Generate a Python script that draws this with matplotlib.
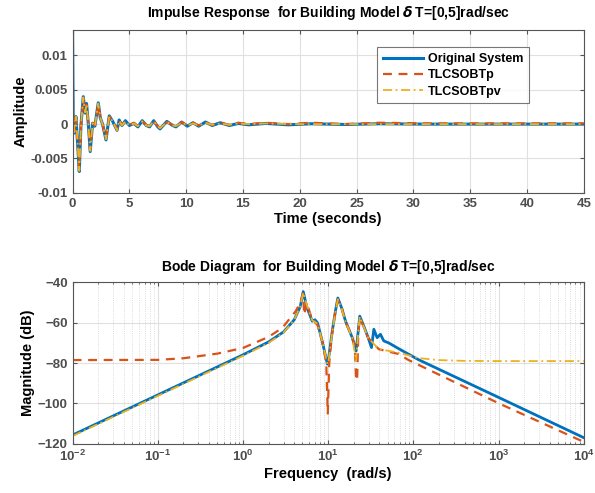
import matplotlib
matplotlib.use("Agg")
import matplotlib.pyplot as plt
import numpy as np
from matplotlib.ticker import FixedLocator, NullFormatter

# MATLAB default line colours
BLUE, ORANGE, YELLOW = "#0072BD", "#D95319", "#EDB120"
LABELS = ("Original System", "TLCSOBTp", "TLCSOBTpv")

# impulse response, amplitude in units of 1e-3
t_imp = [0, 0.05, 0.15, 0.29, 0.44, 0.59, 0.73, 0.94, 1.11, 1.23, 1.4, 1.55,
         1.76, 1.96, 2.26, 2.44, 2.64, 2.94, 3.23, 3.53, 3.91, 4.1, 4.35, 4.65,
         5.0, 5.4, 5.75, 6.13, 6.49, 6.78, 7.14, 7.5, 7.7, 8.3, 8.8, 9.1, 9.6,
         10.1, 10.6, 11.1, 11.7, 12.3, 13.0, 13.8, 14.6, 15.5, 17, 19, 21, 24,
         27, 31, 36, 40, 45]
y_orig = [13.7, 1.1, -1.3, 1.1, -2.8, -6.9, -0.3, 4.0, 1.6, 3.0, -0.3, -4.0,
          0.1, -0.3, 3.1, 0.9, 0.0, -2.3, 1.2, 0.4, -0.9, 0.6, -0.2, 0.5,
          -0.2, 0.1, -0.4, 0.5, -0.2, -0.4, 0.5, -0.4, -0.7, 0.4, -0.2, -0.4, 0.3,
          -0.3, 0.2, -0.3, 0.3, -0.2, 0.2, -0.2, 0.1, -0.1, 0.1, -0.1, 0.05, -0.05,
          0.05, 0.0, 0.0, 0.0, 0.0]
y_p = [10.6, 1.3, -1.1, 1.0, -2.6, -6.6, -0.5, 3.8, 1.8, 2.8, -0.2, -3.8,
       0.2, -0.2, 2.9, 1.0, -0.1, -2.1, 1.1, 0.5, -0.8, 0.5, -0.1, 0.4,
       -0.1, 0.2, -0.3, 0.4, -0.1, -0.3, 0.4, -0.3, -0.5, 0.3, -0.1, -0.3, 0.3,
       -0.2, 0.2, -0.2, 0.2, -0.1, 0.2, -0.1, 0.2, 0.0, 0.2, 0.0, 0.2, 0.0,
       0.2, 0.1, 0.1, 0.1, 0.1]
y_pv = [12.9, 1.2, -1.2, 1.1, -2.7, -6.8, -0.4, 3.9, 1.7, 2.9, -0.3, -3.9,
        0.1, -0.3, 3.0, 0.9, 0.0, -2.2, 1.1, 0.4, -0.9, 0.5, -0.2, 0.4,
        -0.2, 0.1, -0.3, 0.4, -0.2, -0.3, 0.4, -0.3, -0.6, 0.3, -0.2, -0.3, 0.2,
        -0.2, 0.1, -0.2, 0.2, -0.1, 0.1, -0.1, 0.1, 0.0, 0.1, 0.0, 0.0, 0.0,
        0.0, 0.0, 0.0, 0.0, 0.0]

# bode magnitude (dB)
w_orig = [0.01, 0.1, 1, 2, 3, 4, 4.7, 5.1, 5.6, 6.5, 7.0, 7.5, 8.5, 9.8, 10.1,
          11.2, 12.2, 13.0, 14.5, 16, 19.2, 21.3, 22.3, 23.5, 26.2, 29.5, 32.3,
          34.4, 37.6, 41.1, 45, 51.5, 67, 115, 1000, 10000]
m_orig = [-115.7, -95.8, -75.9, -69.5, -64.5, -58.5, -52, -44.5, -52, -59.2,
          -58.5, -60, -69, -80.5, -78, -64, -54, -47.7, -53, -59.2, -67.4, -74,
          -66, -56.7, -61.6, -67.4, -72.3, -63.2, -67.4, -65.7, -69, -70, -72.8,
          -78.3, -97, -117]
w_p = [0.01, 0.1, 0.2, 0.5, 1, 2, 2.9, 4.17, 4.7, 5.07, 5.25, 5.6, 6.5, 7.5,
       8.5, 9.5, 9.9, 10.3, 11.2, 12.2, 13.0, 14.5, 16, 19.2, 20.6, 21.3,
       21.9, 22.6, 23.5, 26.2, 29.5, 39.3, 67, 88, 1000, 10000]
m_p = [-78.5, -78.4, -77.6, -75.3, -72.5, -67, -62.5, -54.2, -50, -45.5, -56,
       -50, -58.5, -61, -69, -80, -105, -80, -64, -54, -48.5, -53, -59.5,
       -67.4, -72, -88.7, -88, -65, -57.5, -62, -67.5, -73.1, -75.5, -78.5,
       -99.9, -119.1]
w_pv = [0.01, 0.1, 1, 2, 3, 4, 4.7, 5.1, 5.6, 6.5, 7.0, 7.5, 8.5, 9.8, 10.1,
        11.2, 12.2, 13.0, 14.5, 16, 19.2, 21.3, 22.3, 23.5, 26.2, 29.5, 39.3,
        67, 115, 198, 400, 1000, 10000]
m_pv = [-116.2, -96.3, -76.4, -70, -64.8, -58.5, -52, -45, -51, -58.8, -59.5,
        -60.5, -69, -80.5, -79, -64.5, -54.5, -48.3, -53.5, -59.5, -67.4, -79,
        -67, -57, -62, -67.5, -73.1, -74.8, -77.5, -78.5, -78.9, -79, -79]

bode_ticks = [1e-2, 1e-1, 1e0, 1e1, 1e2, 1e3, 1e4]
bode_minor = [m * d for d in bode_ticks[:-1] for m in range(2, 10)]

plt.rcParams["font.family"] = ["Liberation Sans", "DejaVu Sans"]
plt.rcParams["font.weight"] = "bold"

fig = plt.figure(figsize=(5.95, 4.93), dpi=100)
ax1 = fig.add_axes([0.122, 0.609, 0.859, 0.330])
ax2 = fig.add_axes([0.122, 0.100, 0.859, 0.327])

GRAY = "#4d4d4d"
for ax in (ax1, ax2):
    for s in ax.spines.values():
        s.set_color("#555555")
        s.set_linewidth(0.8)
    ax.tick_params(direction="in", top=True, right=True, labelsize=9.5,
                   labelcolor=GRAY, color="#555555", length=3)
    ax.tick_params(which="minor", direction="in", top=True, right=True,
                   color="#555555", length=1.5)
    ax.set_axisbelow(True)

title_tail = r"for Building Model $\mathit{\delta}\,$T=[0,5]rad/sec"

# impulse
ax1.plot(t_imp, np.array(y_orig) * 1e-3, color=BLUE, lw=2.2, label=LABELS[0])
ax1.plot(t_imp, np.array(y_p) * 1e-3, color=ORANGE, lw=1.6, ls=(0, (4, 3)), label=LABELS[1])
ax1.plot(t_imp, np.array(y_pv) * 1e-3, color=YELLOW, lw=1.3, ls=(0, (5, 2, 1, 2)), label=LABELS[2])
ax1.set_xlim(0, 45)
ax1.set_ylim(-0.01, 0.0137)
ax1.set_xticks(range(0, 46, 5))
ax1.set_yticks([-0.01, -0.005, 0, 0.005, 0.01])
ax1.set_yticklabels(["-0.01", "-0.005", "0", "0.005", "0.01"])
ax1.grid(True, color="#e0e0e0", lw=0.8)
ax1.set_xlabel("Time (seconds)", fontsize=10.5, fontweight="bold", labelpad=2)
ax1.set_ylabel("Amplitude", fontsize=10.5, fontweight="bold", labelpad=2)
ax1.set_title("Impulse Response  " + title_tail, fontsize=10, fontweight="bold", pad=9.5)
leg = ax1.legend(loc="upper right", bbox_to_anchor=(0.893, 0.894), fontsize=9,
                 frameon=True, fancybox=False, handlelength=3.2, borderpad=0.45,
                 labelspacing=0.35, handletextpad=0.4, borderaxespad=0)
leg.get_frame().set_edgecolor("#555555")
leg.get_frame().set_linewidth(0.8)
for txt in leg.get_texts():
    txt.set_fontweight("bold")

# bode
ax2.semilogx(w_orig, m_orig, color=BLUE, lw=2.0)
ax2.semilogx(w_p, m_p, color=ORANGE, lw=1.6, ls=(0, (4, 3)))
ax2.semilogx(w_pv, m_pv, color=YELLOW, lw=1.3, ls=(0, (5, 2, 1, 2)))
ax2.set_xlim(1e-2, 1e4)
ax2.set_ylim(-120, -40)
ax2.set_yticks([-120, -100, -80, -60, -40])
ax2.xaxis.set_major_locator(FixedLocator(bode_ticks))
ax2.xaxis.set_minor_locator(FixedLocator(bode_minor))
ax2.xaxis.set_minor_formatter(NullFormatter())
ax2.grid(True, which="major", color="#e0e0e0", lw=0.8)
ax2.grid(True, which="minor", axis="x", color="#d0d0d0", lw=0.6, ls=":")
ax2.set_xlabel("Frequency  (rad/s)", fontsize=10.5, fontweight="bold", labelpad=2)
ax2.set_ylabel("Magnitude (dB)", fontsize=10.5, fontweight="bold", labelpad=2)
ax2.set_title("Bode Diagram  " + title_tail, fontsize=10, fontweight="bold", pad=8)

fig.savefig("out.png", dpi=100)
